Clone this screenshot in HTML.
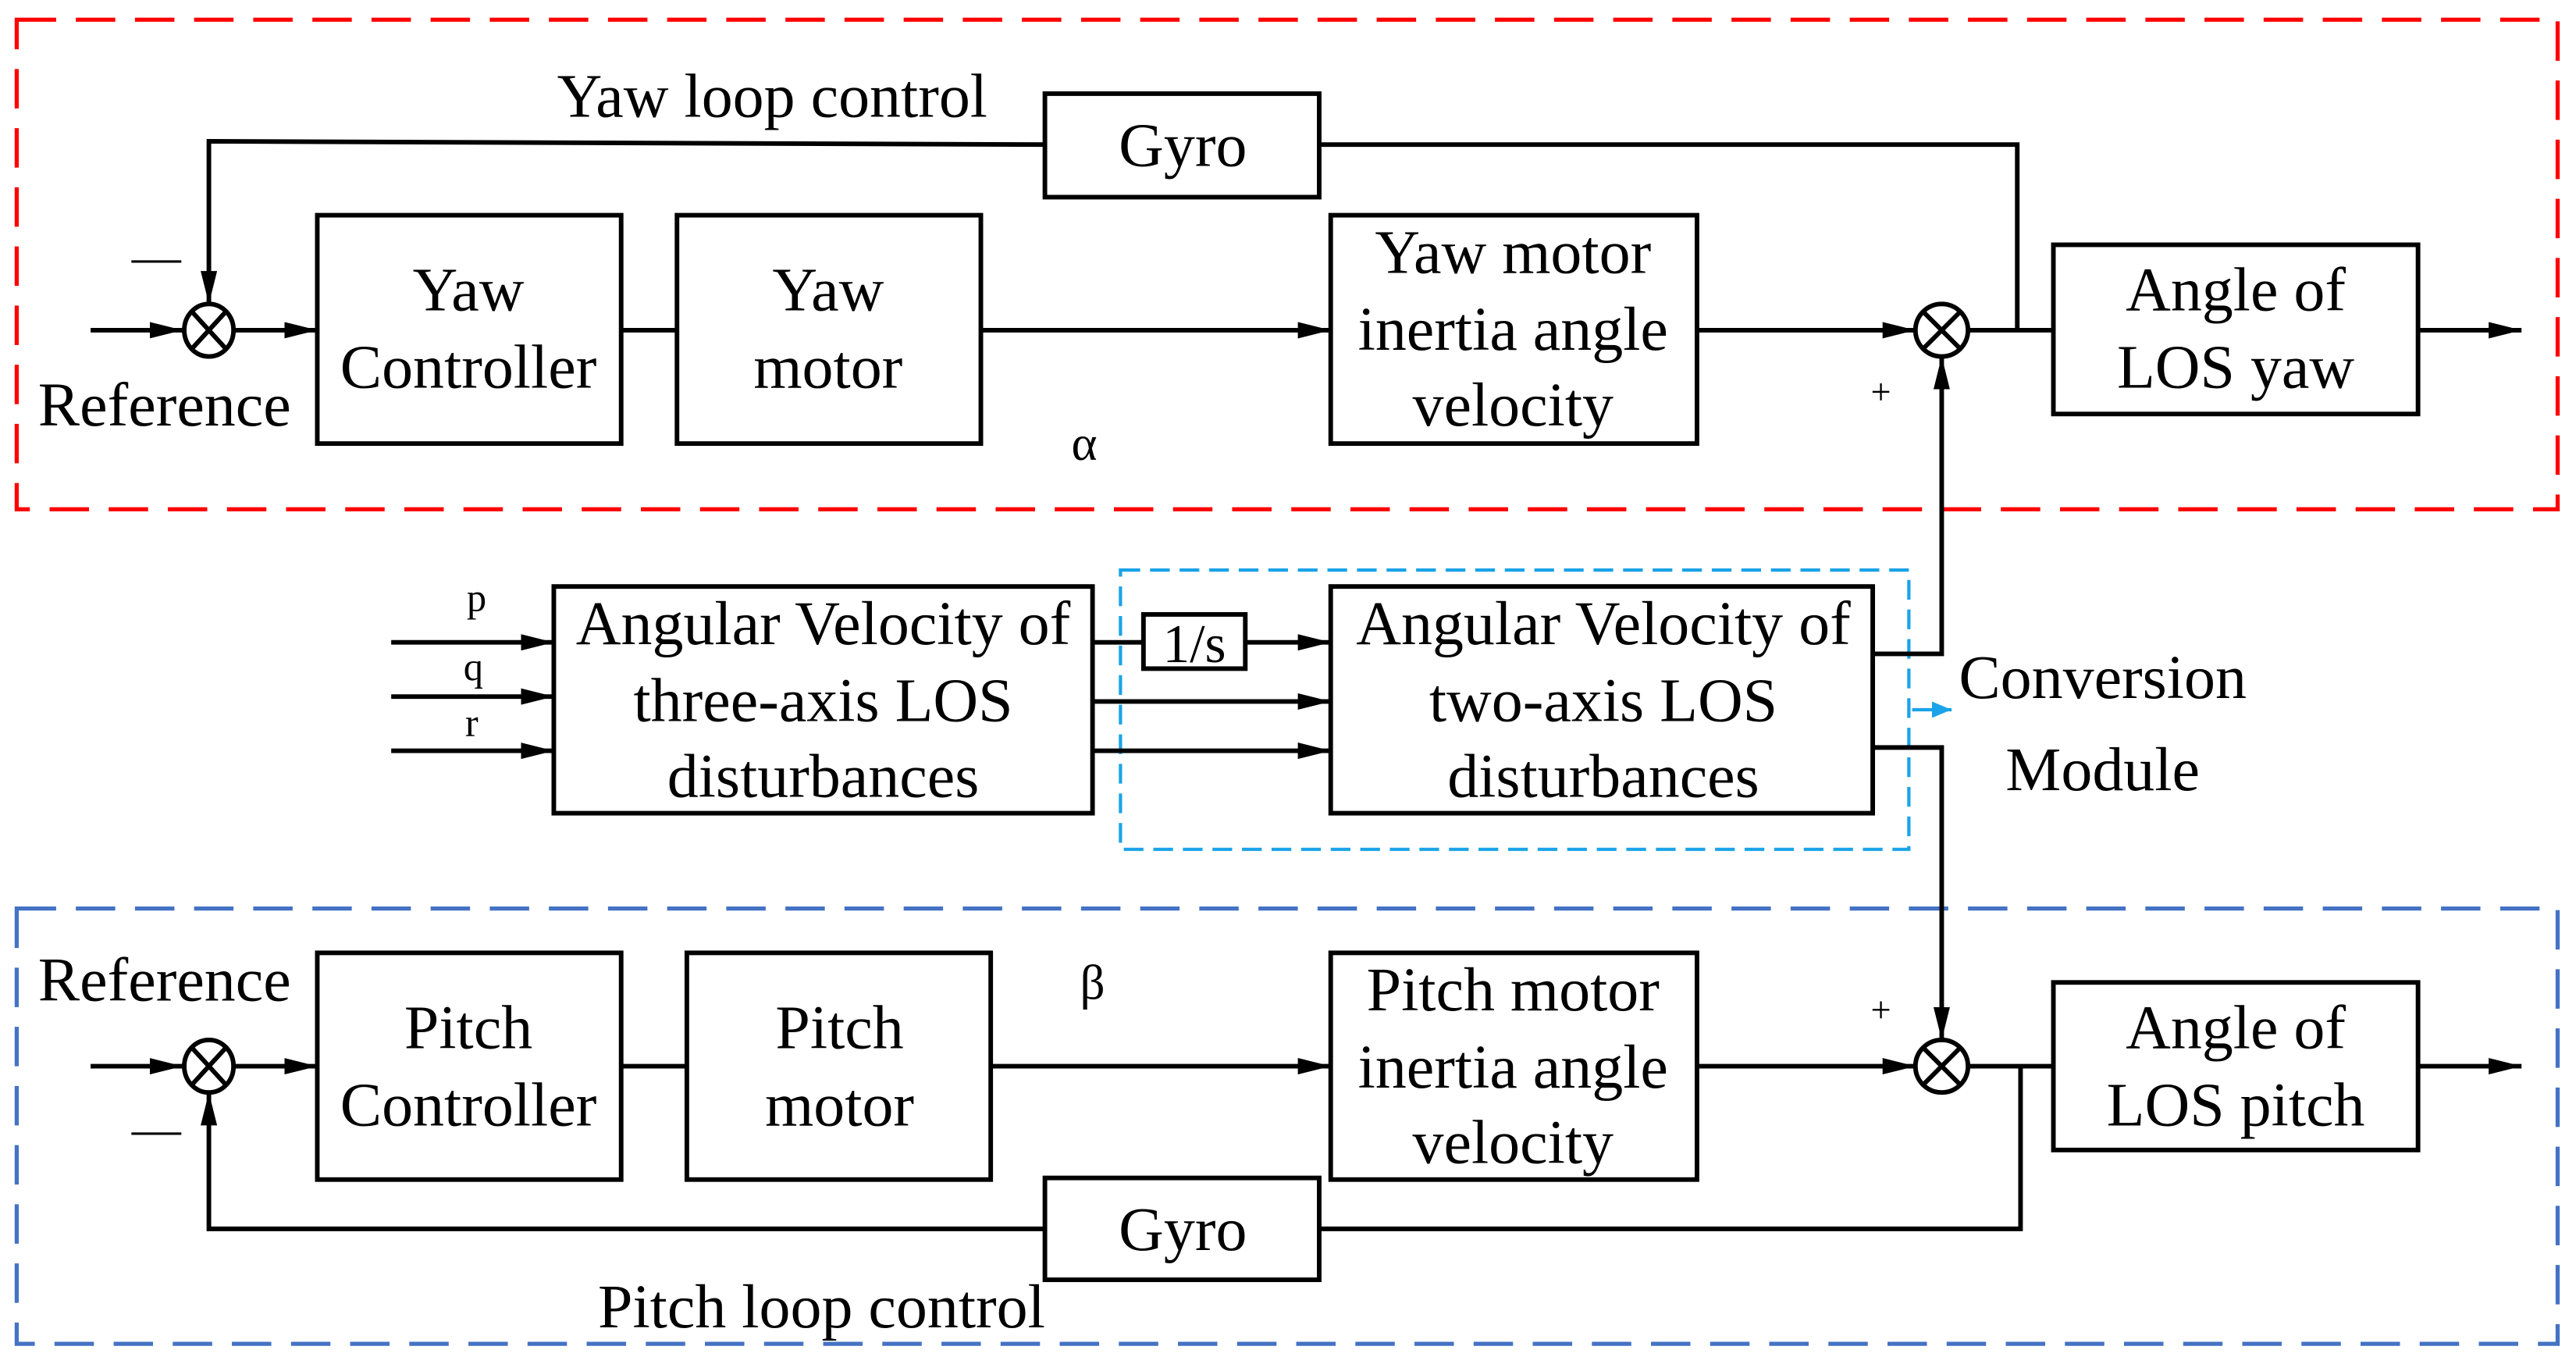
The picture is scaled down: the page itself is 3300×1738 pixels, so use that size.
<!DOCTYPE html>
<html><head><meta charset="utf-8"><style>
html,body{margin:0;padding:0;background:#fff;}
svg{display:block;}
text{font-family:"Liberation Serif",serif;fill:#000;}
</style></head><body>
<svg width="3300" height="1738" viewBox="0 0 1568 826" xmlns="http://www.w3.org/2000/svg">
<defs>
<marker id="ab" viewBox="0 0 20 10" markerWidth="20" markerHeight="10" refX="20" refY="5" orient="auto" markerUnits="userSpaceOnUse"><path d="M0,0 L20,5 L0,10 z" fill="#000"/></marker>
<marker id="ac" viewBox="0 0 12 10" markerWidth="12" markerHeight="10" refX="12" refY="5" orient="auto" markerUnits="userSpaceOnUse"><path d="M0,0 L12,5 L0,10 z" fill="#1aa3e8"/></marker>
</defs>
<g fill="none" stroke-width="2.5">
<rect x="10" y="12" width="1547" height="298" stroke="#ff0000" stroke-dasharray="24,12"/>
<rect x="10" y="553" width="1547" height="265" stroke="#4472c4" stroke-dasharray="24,12"/>
<rect x="682" y="347" width="480" height="170" stroke="#1aa3e8" stroke-dasharray="12,6" stroke-width="2"/>
</g>
<g fill="none" stroke="#000" stroke-width="2.8">
<rect x="636" y="57" width="167" height="63"/>
<rect x="193" y="131" width="185" height="139"/>
<rect x="412" y="131" width="185" height="139"/>
<rect x="810" y="131" width="223" height="139"/>
<rect x="1250" y="149" width="222" height="103"/>
<ellipse cx="127" cy="201" rx="15" ry="16"/>
<path d="M116,189 L138,213 M138,189 L116,213"/>
<circle cx="1182" cy="201" r="16"/>
<path d="M1171,190 L1193,212 M1193,190 L1171,212"/>
<path d="M55,201 H111" marker-end="url(#ab)"/>
<path d="M142,201 H193" marker-end="url(#ab)"/>
<path d="M378,201 H412"/>
<path d="M597,201 H810" marker-end="url(#ab)"/>
<path d="M1033,201 H1166" marker-end="url(#ab)"/>
<path d="M1198,201 H1250"/>
<path d="M1472,201 H1535" marker-end="url(#ab)"/>
<path d="M1228,201 V88 H803"/>
<path d="M636,88 L127,86 V185" marker-end="url(#ab)"/>
<rect x="337" y="357" width="328" height="138"/>
<rect x="696" y="374" width="62" height="33"/>
<rect x="810" y="357" width="330" height="138"/>
<path d="M238,391 H337" marker-end="url(#ab)"/>
<path d="M238,424 H337" marker-end="url(#ab)"/>
<path d="M238,457 H337" marker-end="url(#ab)"/>
<path d="M665,391 H696"/>
<path d="M758,391 H810" marker-end="url(#ab)"/>
<path d="M665,427 H810" marker-end="url(#ab)"/>
<path d="M665,457 H810" marker-end="url(#ab)"/>
<path d="M1140,398 H1182 V217" marker-end="url(#ab)"/>
<path d="M1140,455 H1182 V633" marker-end="url(#ab)"/>
<rect x="193" y="580" width="185" height="138"/>
<rect x="418" y="580" width="185" height="138"/>
<rect x="810" y="580" width="223" height="138"/>
<rect x="1250" y="598" width="222" height="102"/>
<rect x="636" y="717" width="167" height="62"/>
<ellipse cx="127" cy="649" rx="15" ry="16"/>
<path d="M116,637 L138,661 M138,637 L116,661"/>
<circle cx="1182" cy="649" r="16"/>
<path d="M1171,638 L1193,660 M1193,638 L1171,660"/>
<path d="M55,649 H111" marker-end="url(#ab)"/>
<path d="M142,649 H193" marker-end="url(#ab)"/>
<path d="M378,649 H418"/>
<path d="M603,649 H810" marker-end="url(#ab)"/>
<path d="M1033,649 H1166" marker-end="url(#ab)"/>
<path d="M1198,649 H1250"/>
<path d="M1472,649 H1535" marker-end="url(#ab)"/>
<path d="M1230,649 V748 H803"/>
<path d="M636,748 H127 V665" marker-end="url(#ab)"/>
</g>
<path d="M1164,432 H1188" stroke="#1aa3e8" stroke-width="2" fill="none" marker-end="url(#ac)"/>
<g font-size="38" text-anchor="middle">
<text x="470" y="71">Yaw loop control</text>
<text x="720" y="101">Gyro</text>
<text x="285" y="189">Yaw</text>
<text x="285" y="236">Controller</text>
<text x="504" y="189">Yaw</text>
<text x="504" y="236">motor</text>
<text x="921" y="166">Yaw motor</text>
<text x="921" y="213">inertia angle</text>
<text x="921" y="259">velocity</text>
<text x="1361" y="189">Angle of</text>
<text x="1361" y="236">LOS yaw</text>
<text x="100" y="259">Reference</text>
<text x="95" y="166" font-size="30">—</text>
<text x="1145" y="246" font-size="22">+</text>
<text x="660" y="280" font-size="30">α</text>
<text x="501" y="392">Angular Velocity of</text>
<text x="501" y="439">three-axis LOS</text>
<text x="501" y="485">disturbances</text>
<text x="727" y="403" font-size="33">1/s</text>
<text x="976" y="392">Angular Velocity of</text>
<text x="976" y="439">two-axis LOS</text>
<text x="976" y="485">disturbances</text>
<text x="1280" y="425">Conversion</text>
<text x="1280" y="481">Module</text>
<text x="290" y="372" font-size="24">p</text>
<text x="288" y="414" font-size="24">q</text>
<text x="287" y="448" font-size="24">r</text>
<text x="100" y="609">Reference</text>
<text x="95" y="697" font-size="30">—</text>
<text x="1145" y="622" font-size="22">+</text>
<text x="665" y="608" font-size="30">β</text>
<text x="285" y="638">Pitch</text>
<text x="285" y="685">Controller</text>
<text x="511" y="638">Pitch</text>
<text x="511" y="685">motor</text>
<text x="921" y="615">Pitch motor</text>
<text x="921" y="662">inertia angle</text>
<text x="921" y="708">velocity</text>
<text x="1361" y="638">Angle of</text>
<text x="1361" y="685">LOS pitch</text>
<text x="720" y="761">Gyro</text>
<text x="500" y="808">Pitch loop control</text>
</g>
</svg>
</body></html>
